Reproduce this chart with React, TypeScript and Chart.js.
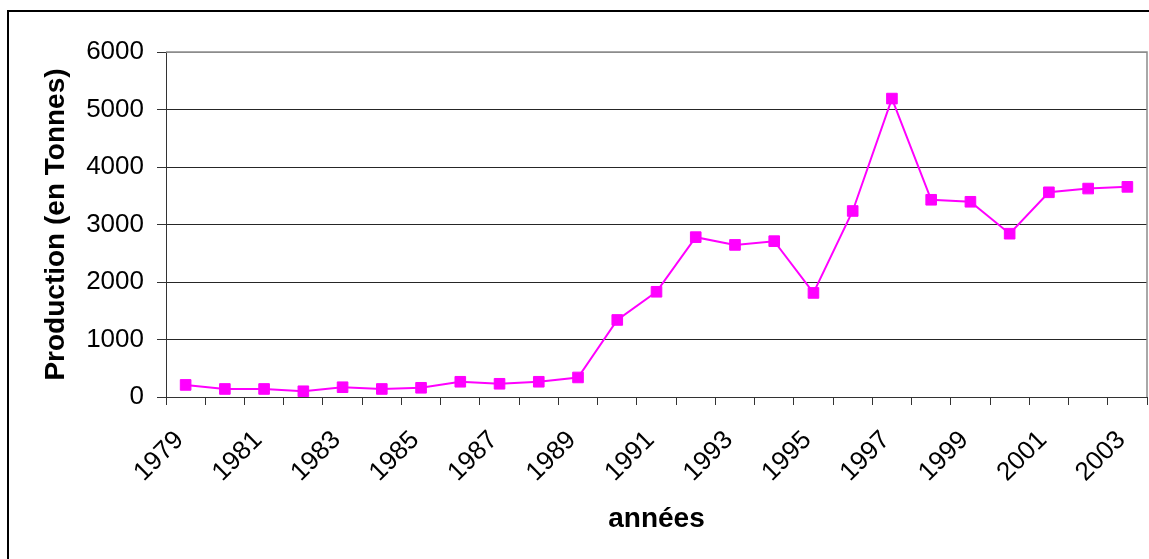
import React, { useEffect, useRef } from 'react';
import { Chart, registerables } from 'chart.js';

Chart.register(...registerables);

const years: string[] = [
  '1979', '1980', '1981', '1982', '1983', '1984', '1985', '1986', '1987', '1988',
  '1989', '1990', '1991', '1992', '1993', '1994', '1995', '1996', '1997', '1998',
  '1999', '2000', '2001', '2002', '2003',
];

const production: number[] = [
  210, 140, 140, 100, 170, 140, 160, 265, 230, 265,
  340, 1340, 1830, 2780, 2645, 2710, 1810, 3235, 5190, 3430,
  3395, 2840, 3560, 3625, 3655,
];

const yMin = 0;
const yMax = 6000;
const yStep = 1000;

const xTitle = 'années';
const yTitle = 'Production (en Tonnes)';

const FONT = "'Liberation Sans', Arial, sans-serif";

const plotBorder = {
  id: 'plotBorder',
  beforeDatasetsDraw(chart: any) {
    const { ctx, chartArea } = chart;
    ctx.save();
    ctx.strokeStyle = '#8c8c8c';
    ctx.lineWidth = 1.5;
    ctx.beginPath();
    ctx.moveTo(chartArea.left, chartArea.top);
    ctx.lineTo(chartArea.right, chartArea.top);
    ctx.lineTo(chartArea.right, chartArea.bottom);
    ctx.stroke();
    ctx.restore();
  },
};

export default function App() {
  const canvasRef = useRef<HTMLCanvasElement | null>(null);

  useEffect(() => {
    if (!canvasRef.current) return;
    const chart = new Chart(canvasRef.current, {
      type: 'line',
      data: {
        labels: years,
        datasets: [
          {
            data: production,
            borderColor: '#FF00FF',
            backgroundColor: '#FF00FF',
            borderWidth: 2,
            pointStyle: 'rect',
            pointRadius: 7.5,
            pointBackgroundColor: '#FF00FF',
            pointBorderColor: '#FF00FF',
            pointBorderWidth: 1,
            tension: 0,
            fill: false,
          },
        ],
      },
      options: {
        animation: false,
        responsive: false,
        devicePixelRatio: 1,
        layout: { autoPadding: false, padding: { left: 0, top: 52, right: 2, bottom: 0 } },
        plugins: {
          legend: { display: false },
          tooltip: { enabled: false },
        },
        scales: {
          x: {
            type: 'category',
            offset: true,
            afterFit(scale: any) {
              scale.height = 162;
              scale.paddingLeft = 0;
              scale.paddingRight = 0;
            },
            grid: {
              display: true,
              offset: true,
              drawOnChartArea: false,
              drawTicks: true,
              tickLength: 8,
              color: '#333',
            },
            border: { display: true, color: '#333', width: 1 },
            ticks: {
              autoSkip: false,
              maxRotation: 45,
              minRotation: 45,
              padding: 20,
              labelOffset: -6,
              color: '#000',
              font: { family: FONT, size: 26 },
              callback: (_v: any, i: number) => (i % 2 === 0 ? years[i] : ''),
            },
            title: {
              display: true,
              text: xTitle,
              color: '#000',
              font: { family: FONT, size: 28, weight: 'bold' },
              padding: { top: 0, bottom: 23 },
            },
          },
          y: {
            min: yMin,
            max: yMax,
            afterFit(scale: any) {
              scale.width = 166;
            },
            grid: {
              drawTicks: true,
              tickLength: 9,
              color: (ctx: any) => (ctx.tick && ctx.tick.value === yMax ? '#8c8c8c' : '#262626'),
              tickColor: '#333',
            },
            border: { display: true, color: '#333', width: 1 },
            ticks: {
              stepSize: yStep,
              padding: 13,
              color: '#000',
              font: { family: FONT, size: 26 },
              callback: (v: any) => String(v),
            },
            title: {
              display: true,
              text: yTitle,
              color: '#000',
              font: { family: FONT, size: 28, weight: 'bold' },
              padding: { top: 39, bottom: 0 },
            },
          },
        },
      },
      plugins: [plotBorder],
    } as any);
    return () => chart.destroy();
  }, []);

  return (
    <div
      style={{
        position: 'fixed',
        left: 0,
        top: 0,
        width: 1149,
        height: 559,
        background: '#fff',
        overflow: 'hidden',
      }}
    >
      <canvas
        ref={canvasRef}
        width={1149}
        height={559}
        style={{ position: 'absolute', left: 0, top: 0, width: 1149, height: 559 }}
      />
      <div
        style={{
          position: 'absolute',
          left: 7,
          top: 10,
          width: 1200,
          height: 600,
          borderLeft: '2px solid #000',
          borderTop: '2px solid #000',
          pointerEvents: 'none',
        }}
      />
    </div>
  );
}
